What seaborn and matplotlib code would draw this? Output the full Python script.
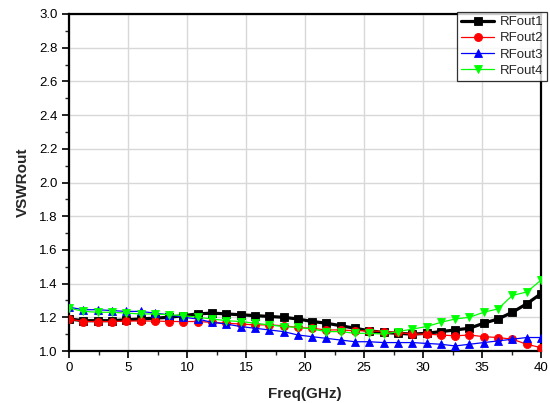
import numpy as np
import pandas as pd
import matplotlib
matplotlib.use("Agg")
import matplotlib.pyplot as plt
from matplotlib.ticker import MultipleLocator
import seaborn as sns

# Output VSWR of the four RF ports, 0-40 GHz sweep (34 points)
freq_ghz = np.linspace(0, 40, 34)

rfout1 = [1.19, 1.18, 1.18, 1.18, 1.185, 1.19, 1.195, 1.20, 1.21, 1.22,
          1.225, 1.22, 1.215, 1.21, 1.205, 1.20, 1.19, 1.175, 1.165, 1.15,
          1.135, 1.12, 1.11, 1.105, 1.10, 1.105, 1.115, 1.125, 1.135, 1.165,
          1.19, 1.23, 1.28, 1.34]
rfout2 = [1.19, 1.175, 1.175, 1.175, 1.178, 1.178, 1.178, 1.175, 1.175, 1.175,
          1.17, 1.165, 1.16, 1.155, 1.155, 1.15, 1.14, 1.135, 1.125, 1.125,
          1.12, 1.12, 1.115, 1.11, 1.10, 1.10, 1.095, 1.09, 1.095, 1.085,
          1.08, 1.07, 1.04, 1.02]
rfout3 = [1.26, 1.245, 1.245, 1.24, 1.235, 1.235, 1.225, 1.215, 1.20, 1.19,
          1.17, 1.16, 1.145, 1.135, 1.125, 1.115, 1.095, 1.085, 1.075, 1.065,
          1.055, 1.055, 1.05, 1.05, 1.05, 1.045, 1.04, 1.03, 1.04, 1.05,
          1.06, 1.07, 1.08, 1.08]
rfout4 = [1.255, 1.235, 1.23, 1.23, 1.225, 1.22, 1.22, 1.215, 1.21, 1.20,
          1.19, 1.18, 1.175, 1.165, 1.155, 1.145, 1.14, 1.13, 1.115, 1.115,
          1.105, 1.105, 1.10, 1.115, 1.13, 1.145, 1.17, 1.19, 1.20, 1.23,
          1.25, 1.33, 1.35, 1.42]

series_names = ["RFout1", "RFout2", "RFout3", "RFout4"]
series_values = [rfout1, rfout2, rfout3, rfout4]

colors = ["#000000", "#ff0000", "#0000ff", "#00ff00"]
markers = ["s", "o", "^", "v"]
widths = [2.3, 0.9, 0.9, 0.9]

x_ticks = [0, 5, 10, 15, 20, 25, 30, 35, 40]
y_ticks = [1.0, 1.2, 1.4, 1.6, 1.8, 2.0, 2.2, 2.4, 2.6, 2.8, 3.0]

sns.set_style("white")
plt.rcParams["font.family"] = ["Liberation Sans", "DejaVu Sans"]

fig = plt.figure(figsize=(5.5, 4.03), dpi=100)
ax = fig.add_axes([69 / 550, 1 - 351 / 403, (541 - 69) / 550, (351 - 14) / 403])

for name, vals, c, m, lw in zip(series_names, series_values, colors, markers, widths):
    df = pd.DataFrame({"Freq": freq_ghz, "VSWR": vals})
    sns.lineplot(data=df, x="Freq", y="VSWR", ax=ax, color=c, marker=m,
                 linewidth=lw, markersize=5.8, markeredgecolor=c,
                 markeredgewidth=0.6, label=name, zorder=3)

ax.set_xlim(0, 40)
ax.set_ylim(1.0, 3.0)
ax.set_xticks(x_ticks)
ax.set_yticks(y_ticks)
ax.set_xticklabels([str(v) for v in x_ticks])
ax.set_yticklabels([f"{v:.1f}" for v in y_ticks])
ax.xaxis.set_minor_locator(MultipleLocator(2.5))
ax.yaxis.set_minor_locator(MultipleLocator(0.1))

ax.grid(True, which="major", color="#d8d8d8", linewidth=1.0, zorder=0)
ax.set_axisbelow(True)

for sp in ax.spines.values():
    sp.set_color("black")
    sp.set_linewidth(1.6)

ax.tick_params(which="major", direction="out", length=5, width=1.2,
               labelsize=9.5, colors="black", bottom=True, left=True,
               top=False, right=False, pad=3)
ax.tick_params(which="minor", direction="out", length=3, width=1.0,
               bottom=True, left=True, top=False, right=False)

ax.set_xlabel("Freq(GHz)", fontsize=11, fontweight="bold", labelpad=9)
ax.set_ylabel("VSWRout", fontsize=11, fontweight="bold", labelpad=7)

leg = ax.legend(loc="upper right", bbox_to_anchor=(547 / 550, 1 - 12 / 403),
                bbox_transform=fig.transFigure, fontsize=9.5, frameon=True,
                fancybox=False, shadow=False, borderpad=0.3, labelspacing=0.3,
                handlelength=2.5, handletextpad=0.4, borderaxespad=0)
leg.get_frame().set_edgecolor("black")
leg.get_frame().set_linewidth(0.9)
leg.set_zorder(5)

fig.savefig("out.png", dpi=100, facecolor="white")
